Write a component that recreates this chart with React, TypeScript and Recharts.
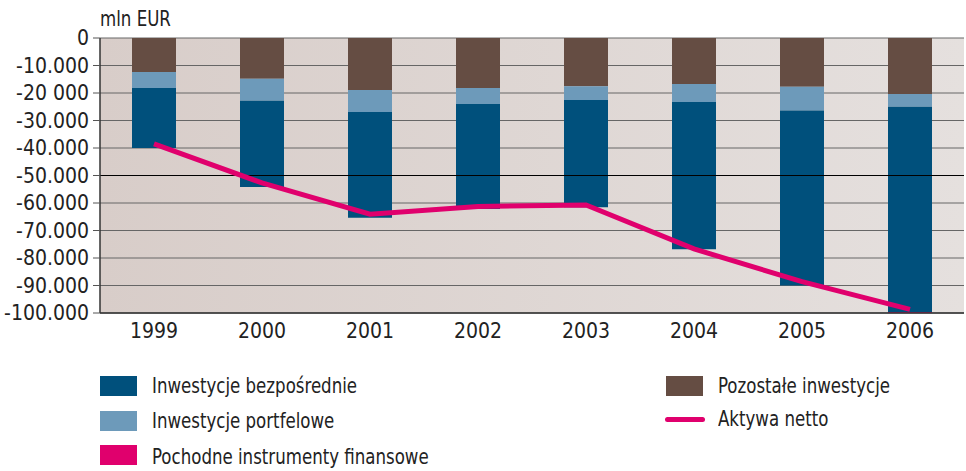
import { ComposedChart, Bar, Line, XAxis, YAxis, CartesianGrid, ReferenceLine } from 'recharts';

const years = ['1999', '2000', '2001', '2002', '2003', '2004', '2005', '2006'];
// values in mln EUR (stacked downward from 0)
const pozostale = [-12400, -14800, -18900, -18200, -17500, -16700, -17700, -20400];
const portfelowe = [-5800, -8000, -8000, -5800, -5000, -6600, -8700, -4600];
const bezposrednie = [-21800, -31400, -38500, -38200, -39000, -53500, -63600, -74600];
const pochodne = [0, 0, 0, 0, 0, 0, 0, -400];
const aktywaNetto = [-38500, -52700, -64100, -61300, -60700, -76700, -88600, -98700];

const yTicks = [0, -10000, -20000, -30000, -40000, -50000, -60000, -70000, -80000, -90000, -100000];
const yTickLabels = ['0', '-10.000', '-20 000', '-30.000', '-40.000', '-50.000', '-60.000', '-70.000', '-80.000', '-90.000', '-100.000'];

const data = years.map((year, i) => ({
  year,
  pozostale: pozostale[i],
  portfelowe: portfelowe[i],
  bezposrednie: bezposrednie[i],
  pochodne: pochodne[i],
  aktywa: aktywaNetto[i],
}));

const FONT = "'Liberation Sans Narrow', 'DejaVu Sans Condensed', sans-serif";
const C_DARK = '#00507c';
const C_LIGHT = '#6d9aba';
const C_BROWN = '#654d43';
const C_PINK = '#e0006d';

const YTick = ({ x, y, payload }: any) => {
  const idx = yTicks.indexOf(payload.value);
  return (
    <text x={x - 2} y={y} dy={7} textAnchor="end" fontSize={21} fill="#222" fontFamily={FONT}>
      {yTickLabels[idx]}
    </text>
  );
};

const legendText = {
  position: 'absolute' as const,
  fontFamily: FONT,
  fontSize: 22,
  color: '#222',
  lineHeight: '22px',
  whiteSpace: 'nowrap' as const,
  transform: 'scaleX(0.84)',
  transformOrigin: 'left center',
};

const App = () => {
  return (
    <div style={{ position: 'relative', width: 966, height: 471, background: '#fff' }}>
      <style>{`body{margin:0}`}</style>
      <div style={{ ...legendText, left: 100, top: 8 }}>mln EUR</div>
      <div style={{ position: 'absolute', left: 0, top: 0 }}>
        <ComposedChart width={966} height={350} data={data} margin={{ top: 38, right: 2, bottom: 0, left: 0 }} barCategoryGap={0}>
          <defs>
            <linearGradient id="bg" x1="0" y1="0" x2="1" y2="0">
              <stop offset="0%" stopColor="#d8cdc9" />
              <stop offset="100%" stopColor="#e5e0de" />
            </linearGradient>
          </defs>
          <CartesianGrid vertical={false} stroke="#666" strokeWidth={1} fill="url(#bg)" fillOpacity={1} />
          <ReferenceLine y={-50000} stroke="#000" strokeWidth={1} />
          <XAxis
            dataKey="year"
            height={37}
            tickLine={false}
            axisLine={{ stroke: '#333', strokeWidth: 1.5 }}
            tick={{ fontSize: 21, fill: '#222', fontFamily: FONT }}
            tickMargin={4}
          />
          <YAxis
            width={100}
            domain={[-100000, 0]}
            ticks={yTicks}
            interval={0}
            tick={<YTick />}
            tickSize={7}
            tickLine={{ stroke: '#555' }}
            axisLine={{ stroke: '#333', strokeWidth: 1.5 }}
          />
          <Bar dataKey="pozostale" stackId="a" fill={C_BROWN} barSize={44} isAnimationActive={false} />
          <Bar dataKey="portfelowe" stackId="a" fill={C_LIGHT} barSize={44} isAnimationActive={false} />
          <Bar dataKey="bezposrednie" stackId="a" fill={C_DARK} barSize={44} isAnimationActive={false} />
          <Bar dataKey="pochodne" stackId="a" fill={C_PINK} barSize={44} isAnimationActive={false} />
          <Line
            type="linear"
            dataKey="aktywa"
            stroke={C_PINK}
            strokeWidth={5}
            dot={false}
            activeDot={false}
            isAnimationActive={false}
          />
        </ComposedChart>
      </div>
      <div style={{ position: 'absolute', left: 100, top: 376, width: 37, height: 20, background: C_DARK }} />
      <div style={{ ...legendText, left: 152, top: 375 }}>Inwestycje bezpośrednie</div>
      <div style={{ position: 'absolute', left: 100, top: 411, width: 37, height: 20, background: C_LIGHT }} />
      <div style={{ ...legendText, left: 152, top: 410 }}>Inwestycje portfelowe</div>
      <div style={{ position: 'absolute', left: 100, top: 445, width: 37, height: 20, background: C_PINK }} />
      <div style={{ ...legendText, left: 152, top: 446 }}>Pochodne instrumenty finansowe</div>
      <div style={{ position: 'absolute', left: 666, top: 376, width: 37, height: 20, background: C_BROWN }} />
      <div style={{ ...legendText, left: 718, top: 375 }}>Pozostałe inwestycje</div>
      <div style={{ position: 'absolute', left: 665, top: 417, width: 40, height: 5, borderRadius: 3, background: C_PINK }} />
      <div style={{ ...legendText, left: 718, top: 408 }}>Aktywa netto</div>
    </div>
  );
};

export default App;
